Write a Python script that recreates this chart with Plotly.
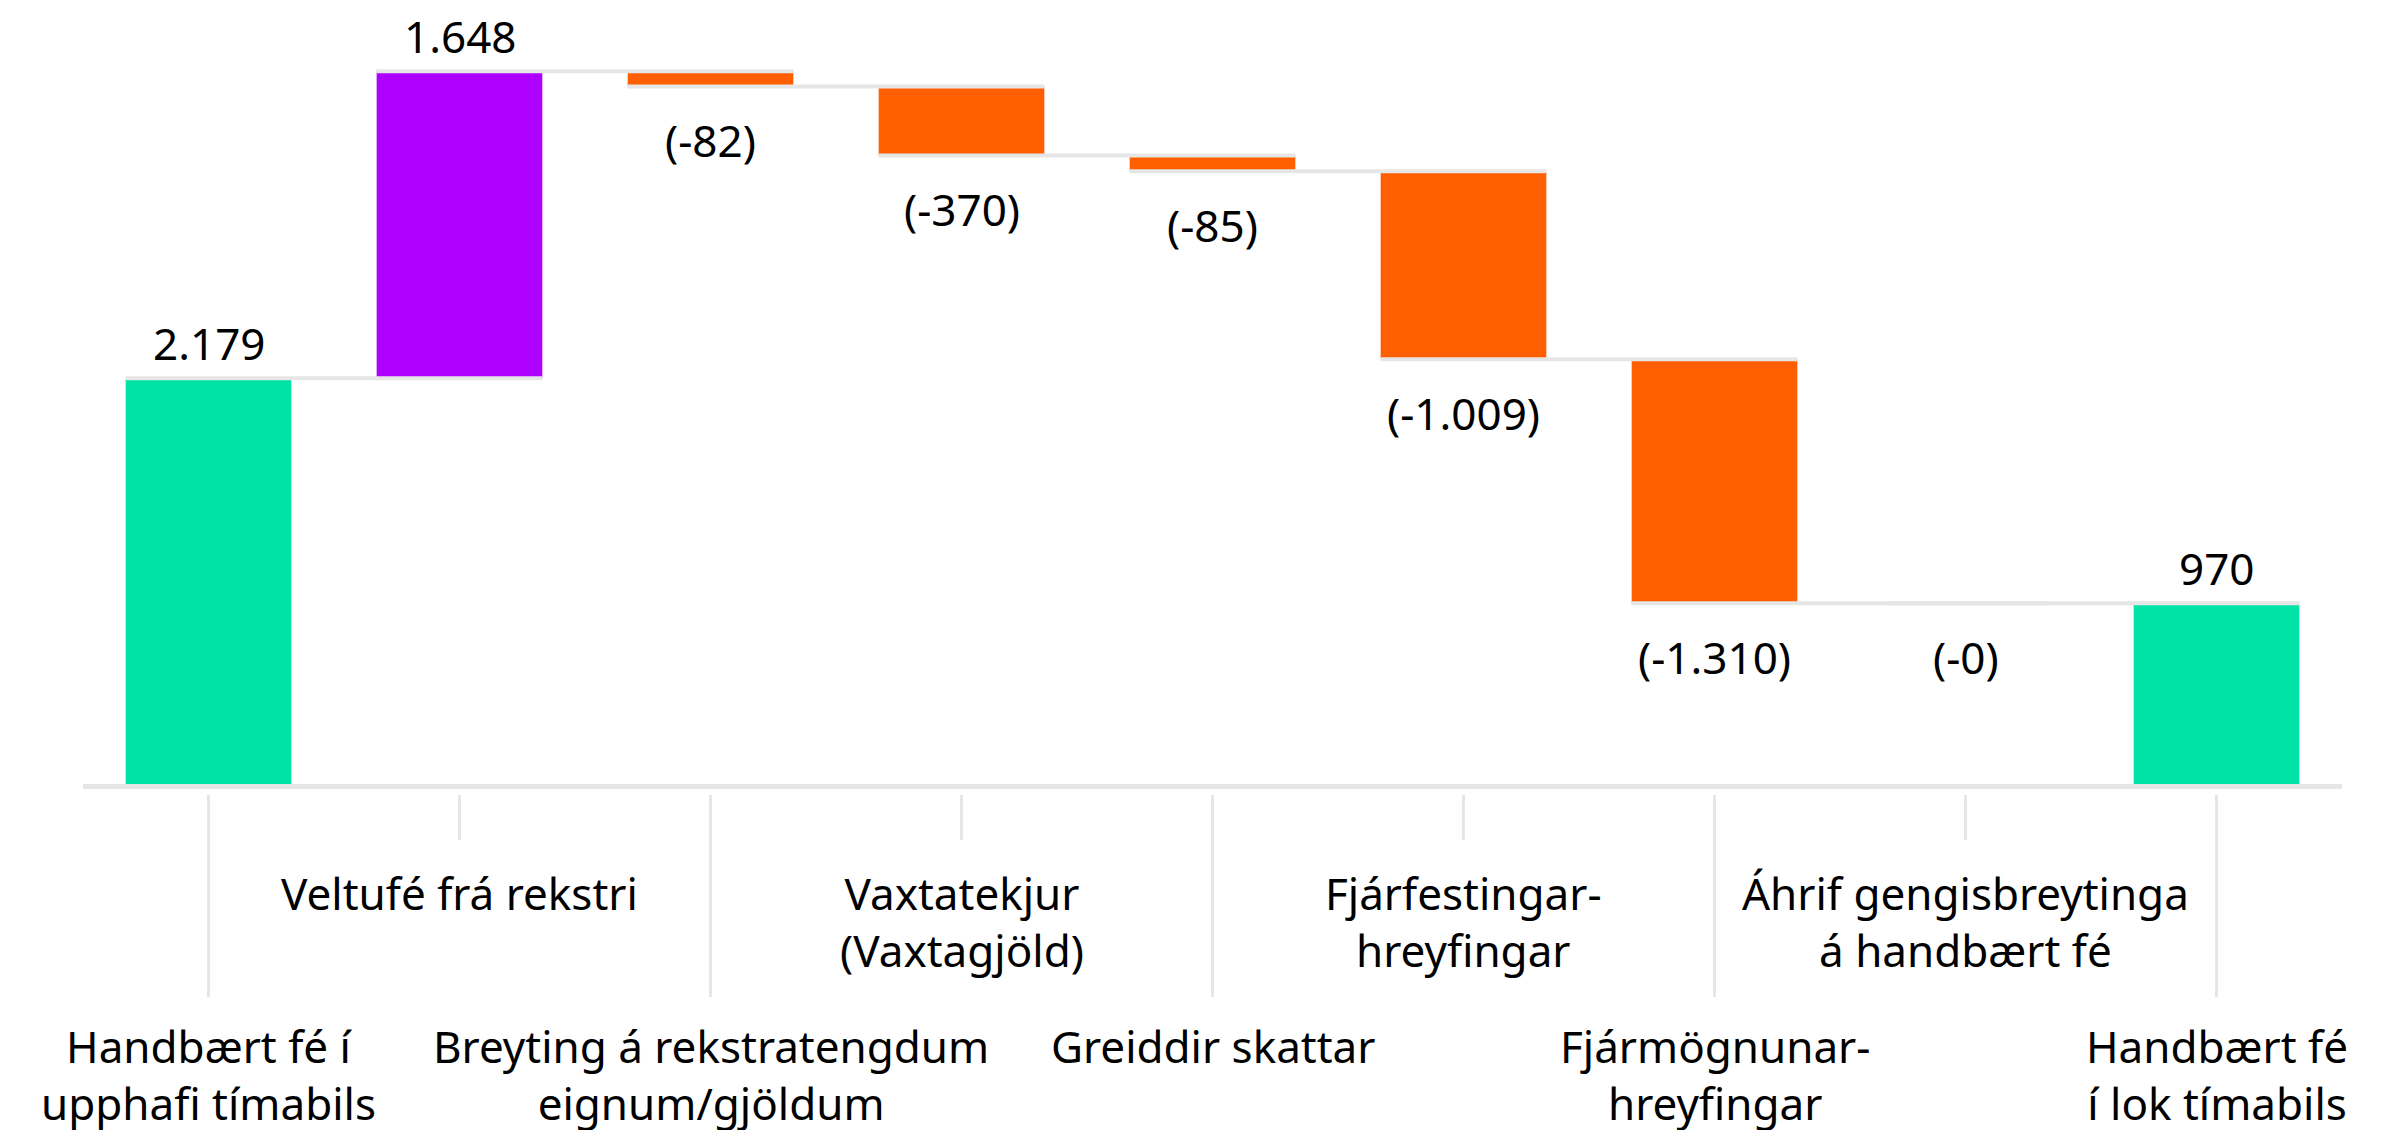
import numpy as np
import plotly.graph_objects as go

categories = [
    "Handbært fé í<br>upphafi tímabils",
    "Veltufé frá rekstri",
    "Breyting á rekstratengdum<br>eignum/gjöldum",
    "Vaxtatekjur<br>(Vaxtagjöld)",
    "Greiddir skattar",
    "Fjárfestingar-<br>hreyfingar",
    "Fjármögnunar-<br>hreyfingar",
    "Áhrif gengisbreytinga<br>á handbært fé",
    "Handbært fé<br>í lok tímabils",
]
values = [2179, 1648, -82, -370, -85, -1009, -1310, -0.4, 970]
measures = ["absolute", "relative", "relative", "relative", "relative",
            "relative", "relative", "relative", "absolute"]

GREEN = "#00E3A6"
PURPLE = "#AE00FF"
ORANGE = "#FF5F00"
GRID = "#e6e6e6"
FONT = "Noto Sans"
FS = 44
BAR_W = 0.66

x = list(range(len(categories)))

# cumulative levels (start / end of each bar)
starts, ends = [], []
level = 0.0
for v, m in zip(values, measures):
    if m == "absolute":
        s, e = 0.0, v
    else:
        s, e = level, level + v
    starts.append(s)
    ends.append(e)
    level = e


def fmt(v):
    r = int(round(abs(v)))
    s = f"{r:,}".replace(",", ".")
    if v < 0:
        return f"(-{s})"
    return s


fig = go.Figure()

# connector lines spanning from left edge of bar i to right edge of bar i+1
for i in range(len(x) - 1):
    lv = ends[i]
    fig.add_trace(go.Scatter(
        x=[x[i] - BAR_W / 2, x[i + 1] + BAR_W / 2], y=[lv, lv],
        mode="lines", line=dict(color=GRID, width=4),
        hoverinfo="skip", showlegend=False))

fig.add_trace(go.Waterfall(
    x=x, y=values, measure=measures,
    width=[BAR_W] * len(x),
    increasing=dict(marker=dict(color=PURPLE, line=dict(width=0))),
    decreasing=dict(marker=dict(color=ORANGE, line=dict(width=0))),
    totals=dict(marker=dict(color=GREEN, line=dict(width=0))),
    connector=dict(visible=False),
    textposition="none",
    hoverinfo="skip",
    showlegend=False,
))

annotations = []
for i, (v, s, e) in enumerate(zip(values, starts, ends)):
    top, bot = max(s, e), min(s, e)
    if v >= 0:
        annotations.append(dict(x=x[i], y=top, xref="x", yref="y", text=fmt(v),
                                showarrow=False, yanchor="middle", yshift=35,
                                font=dict(family=FONT, size=FS, color="#000")))
    else:
        annotations.append(dict(x=x[i], y=bot, xref="x", yref="y", text=fmt(v),
                                showarrow=False, yanchor="middle", yshift=-54,
                                font=dict(family=FONT, size=FS, color="#000")))

shapes = []
for i, c in enumerate(categories):
    lower = (i % 2 == 0)
    annotations.append(dict(x=x[i], y=-0.3088 if lower else -0.1033,
                            xref="x", yref="paper", text=c, showarrow=False,
                            yanchor="top", xanchor="center", align="center",
                            font=dict(family=FONT, size=FS, color="#000")))
    shapes.append(dict(type="line", xref="x", yref="paper",
                       x0=x[i], x1=x[i], y0=-0.0148,
                       y1=-0.2859 if lower else -0.0752,
                       line=dict(color=GRID, width=3)))

fig.update_layout(
    width=2408, height=1130,
    margin=dict(l=75, r=74, t=31, b=354),
    paper_bgcolor="white", plot_bgcolor="white",
    font=dict(family=FONT, size=FS, color="#000"),
    xaxis=dict(range=[-0.5, 8.5], showticklabels=False, showgrid=False,
               zeroline=False, showline=True, linecolor=GRID, linewidth=5,
               ticks=""),
    yaxis=dict(range=[0, 4000], showticklabels=False, showgrid=False,
               zeroline=False, showline=False, ticks=""),
    annotations=annotations,
    shapes=shapes,
    showlegend=False,
)

fig.write_html("out.html")
